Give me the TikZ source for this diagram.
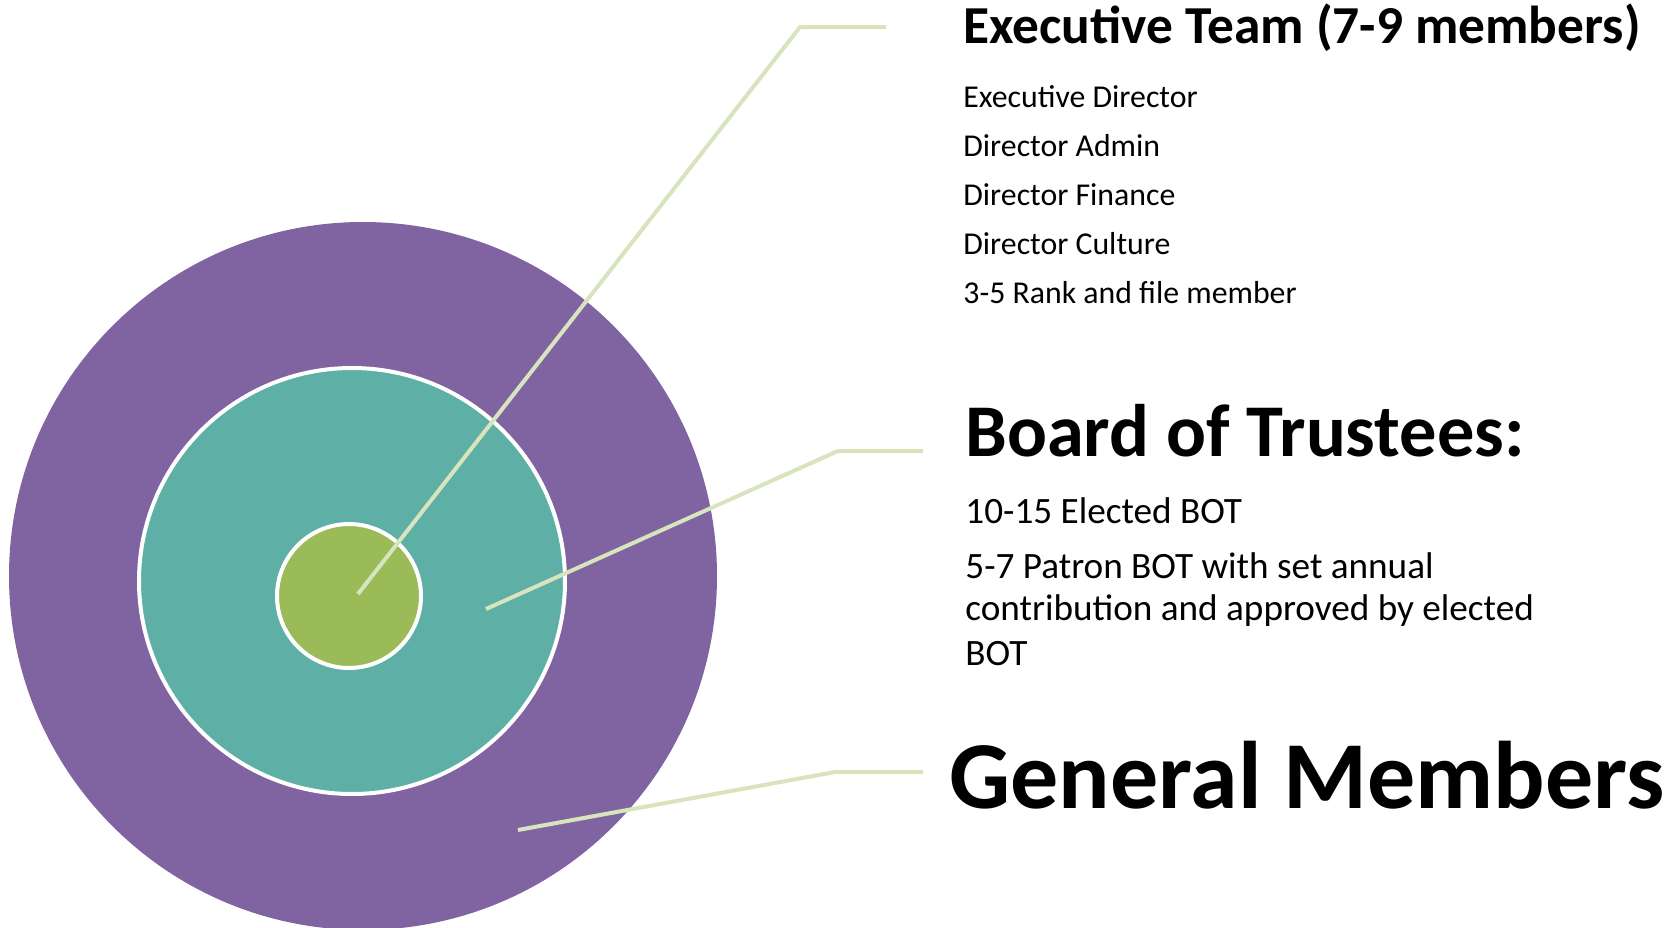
\documentclass[tikz,border=0pt]{standalone}
\usepackage{fontspec}
\setmainfont{Carlito}
\definecolor{outerpurple}{HTML}{8064A2}
\definecolor{midteal}{HTML}{5EAFA6}
\definecolor{innergreen}{HTML}{9BBB59}
\definecolor{leadergreen}{HTML}{D7E4BD}
\begin{document}
\begin{tikzpicture}[x=0.5pt,y=-0.5pt,
  ring/.style={circle,inner sep=0pt,outer sep=0pt},
  leader/.style={draw=leadergreen,line width=2pt},
  head/.style={anchor=base west,inner sep=0pt,font=\bfseries},
  item/.style={anchor=base west,inner sep=0pt}]
\useasboundingbox (0,0) rectangle (1677,927);
\clip (0,0) rectangle (1677,927);
% rings
\node[ring,fill=outerpurple,minimum size=354pt] (gmring) at (363,576) {};
\node[ring,fill=midteal,draw=white,line width=2pt,minimum size=213pt] (botring) at (352,581) {};
\node[ring,fill=innergreen,draw=white,line width=2pt,minimum size=72pt] (etring) at (349,596) {};
% leader points
\coordinate (s1) at (358,594);
\coordinate (b1) at (800,27);
\coordinate (e1) at (886,27);
\coordinate (s2) at (486,609);
\coordinate (b2) at (838,451);
\coordinate (e2) at (923,451);
\coordinate (s3) at (518,830);
\coordinate (b3) at (835,772);
\coordinate (e3) at (923,772);
\draw[leader] (s1) -- (b1) -- (e1);
\draw[leader] (s2) -- (b2) -- (e2);
\draw[leader] (s3) -- (b3) -- (e3);
% texts
\node[head,font=\bfseries\fontsize{26.7pt}{30pt}\selectfont] (et) at (963,43) {Executive Team (7-9 members)};
\node[item,font=\fontsize{15.9pt}{18pt}\selectfont] (et1) at (963,107) {Executive Director};
\node[item,font=\fontsize{15.9pt}{18pt}\selectfont] (et2) at (963,156) {Director Admin};
\node[item,font=\fontsize{15.9pt}{18pt}\selectfont] (et3) at (963,205) {Director Finance};
\node[item,font=\fontsize{15.9pt}{18pt}\selectfont] (et4) at (963,254) {Director Culture};
\node[item,font=\fontsize{15.9pt}{18pt}\selectfont] (et5) at (963,303) {3-5 Rank and file member};
\node[head,font=\bfseries\fontsize{37.2pt}{42pt}\selectfont] (bot) at (965,456) {Board of Trustees:};
\node[item,font=\fontsize{18.6pt}{22pt}\selectfont] (bot1) at (965,523) {10-15 Elected BOT};
\node[item,font=\fontsize{18.6pt}{22pt}\selectfont] (bot2) at (965,578) {5-7 Patron BOT with set annual};
\node[item,font=\fontsize{18.6pt}{22pt}\selectfont] (bot3) at (965,620) {contribution and approved by elected};
\node[item,font=\fontsize{18.6pt}{22pt}\selectfont] (bot4) at (965,665) {BOT};
\node[head,font=\bfseries\fontsize{48pt}{52pt}\selectfont] (gm) at (949,808) {General Members};
\end{tikzpicture}
\end{document}
